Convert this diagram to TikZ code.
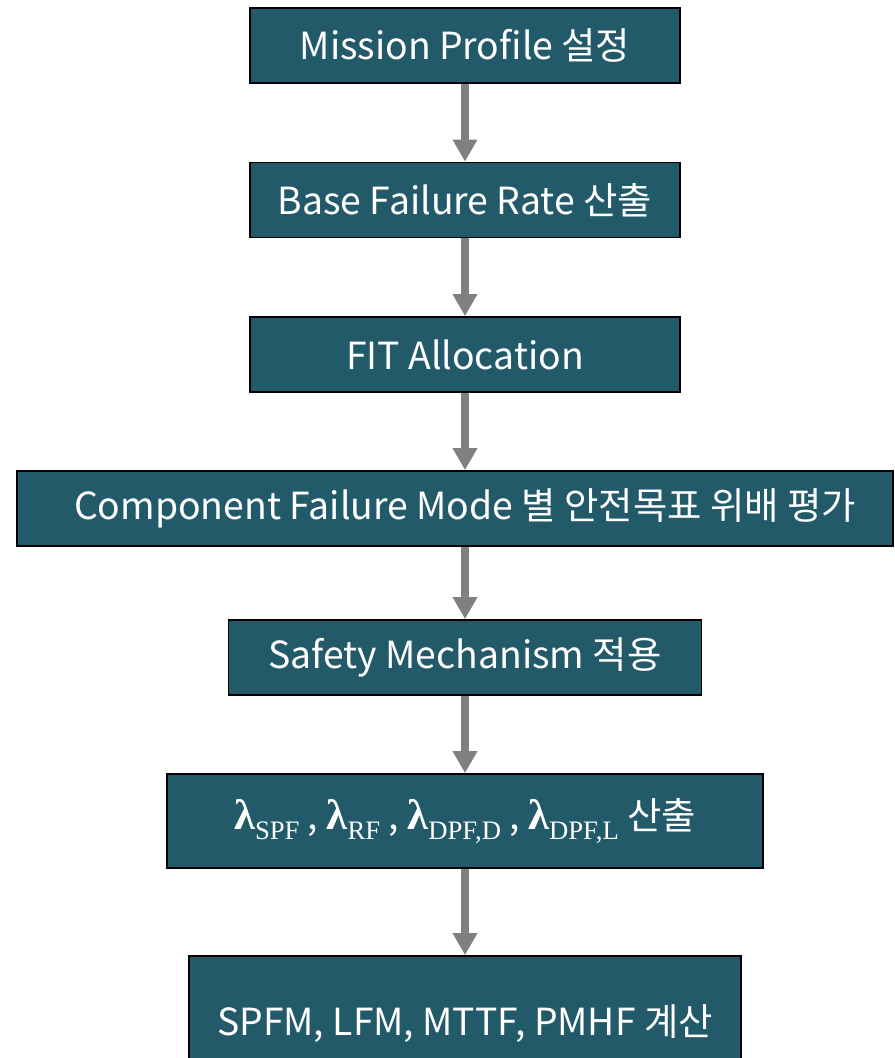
\documentclass[tikz,border=0pt]{standalone}
\usepackage{fontspec}
\setmainfont{Noto Sans CJK KR}
\newfontfamily\lamfont{Liberation Serif}
\usetikzlibrary{arrows.meta}
\definecolor{boxteal}{HTML}{235A69}
\definecolor{flowgray}{HTML}{808080}
\newcommand{\lam}[1]{{\lamfont\bfseries\fontsize{32}{32}\selectfont λ}{\lamfont\fontsize{20}{20}\selectfont\raisebox{-0.38em}{#1}}}
\tikzset{
  stage/.style={draw=black, line width=1.3pt, fill=boxteal, text=white,
    font=\fontsize{28}{32}\selectfont, minimum height=56.25pt, inner sep=0pt},
  flow/.style={->, draw=flowgray, line width=6pt}
}

\begin{document}
\begin{tikzpicture}[x=0.75pt, y=-0.75pt, >={Triangle[width=17.5pt, length=16.5pt]}]
\useasboundingbox (0,0) rectangle (895,1058);

\node[stage, minimum width=322.5pt] (profile) at (465,45.5) {Mission Profile 설정};
\node[stage, minimum width=322.5pt] (base) at (465,200) {Base Failure Rate 산출};
\node[stage, minimum width=322.5pt] (fit) at (465,354.5) {FIT Allocation};
\node[stage, minimum width=657pt] (mode) at (455,508.5) {};
\node[stage, draw=none, fill=none] (modetext) at (465,508.5) {Component Failure Mode 별 안전목표 위배 평가};
\node[stage, minimum width=354.75pt] (sm) at (465,657.5) {Safety Mechanism 적용};
\node[stage, minimum width=447pt, minimum height=70.5pt] (lambda) at (465,821)
  {\lam{SPF} , \lam{RF} , \lam{DPF,D} , \lam{DPF,L} 산출};
\node[stage, minimum width=414pt, minimum height=102pt] (metric) at (465,1024) {SPFM, LFM, MTTF, PMHF 계산};

\draw[flow] (profile) -- (base);
\draw[flow] (base) -- (fit);
\draw[flow] (fit.south) -- (fit.south |- mode.north);
\draw[flow] (fit.south |- mode.south) -- (sm);
\draw[flow] (sm) -- (lambda);
\draw[flow] (lambda) -- (metric);
\end{tikzpicture}
\end{document}
